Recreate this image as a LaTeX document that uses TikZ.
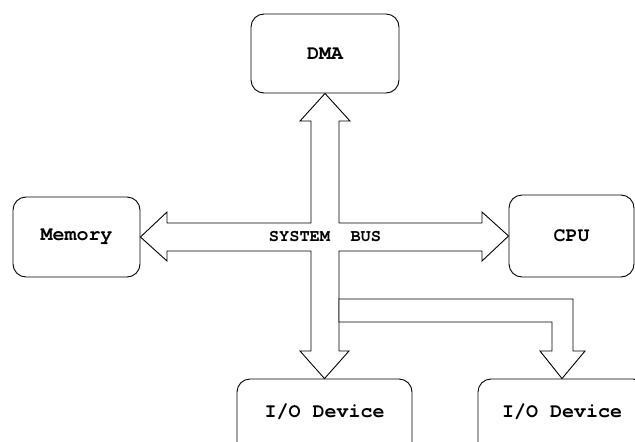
\documentclass[tikz,border=0pt]{standalone}
\usepackage{fontspec}
\setmonofont{TeX Gyre Cursor}
\begin{document}
\begin{tikzpicture}[x=1pt,y=-1pt,
  unitbox/.style={draw=black, line width=0.9pt, rounded corners=13pt, fill=white,
    font=\ttfamily\bfseries\fontsize{20}{24}\selectfont, inner sep=0pt},
  unitlabel/.style={font=\ttfamily\bfseries\fontsize{20}{24}\selectfont, inner sep=0pt},
  busarrow/.style={draw=black, line width=0.9pt, fill=white, line join=miter},
  buslabel/.style={font=\ttfamily\bfseries\fontsize{17}{20}\selectfont, inner sep=0pt}]
  \useasboundingbox (0,0) rectangle (635,442);
  \clip (0,0) rectangle (635,442);

  % units attached to the bus
  \node[unitbox, minimum width=148pt, minimum height=79pt] (dma) at (325,53.5) {DMA};
  \node[unitbox, minimum width=127pt, minimum height=80pt] (mem) at (76.5,237) {Memory};
  \node[unitbox, minimum width=125pt, minimum height=82pt] (cpu) at (571.5,236) {CPU};
  \node[unitbox, minimum width=175pt, minimum height=100pt] (io1) at (324.5,429) {};
  \node[unitlabel] (io1t) at (324.5,412) {I/O Device};
  \node[unitbox, minimum width=168pt, minimum height=100pt] (io2) at (562,429) {};
  \node[unitlabel] (io2t) at (562,412) {I/O Device};

  \coordinate (bus) at (325,237);

  % the system bus: one four-way block arrow
  \draw[busarrow]
    (311,121) -- (300,121) -- (dma.south) -- (350,121) -- (339,121)
    -- (339,223) -- (482,223) -- (482,212) -- (cpu.west) -- (482,261) -- (482,251)
    -- (339,251) -- (339,351) -- (349,351) -- (io1.north) -- (300,351) -- (311,351)
    -- (311,251) -- (167,251) -- (167,261) -- (mem.east) -- (167,212) -- (167,223)
    -- (311,223) -- cycle;

  % branch of the bus to the second I/O device
  \draw[busarrow]
    (339,299) -- (573,299) -- (573,351) -- (585,351) -- (io2.north)
    -- (540,351) -- (552,351) -- (552,322) -- (339,322) -- cycle;

  \node[buslabel] (buslbl) at (bus) {SYSTEM\ \ BUS};
\end{tikzpicture}
\end{document}
